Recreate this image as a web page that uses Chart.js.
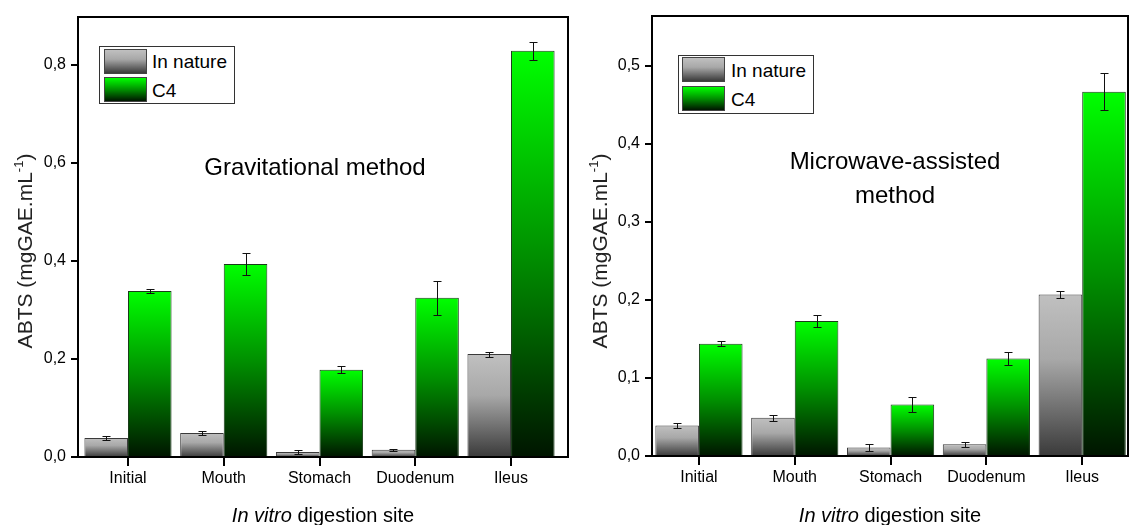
<!DOCTYPE html>
<html>
<head>
<meta charset="utf-8">
<script src="https://cdn.jsdelivr.net/npm/chart.js@4"></script>
<style>
  body { margin: 0; background: #fff; }
  #wrap { position: relative; width: 1131px; height: 525px; overflow: hidden; font-family: "Liberation Sans", Arial, sans-serif; color: #000; }
  .box { position: absolute; }
  .lg { position: absolute; border: 1px solid #333; background: #fff; }
  .sw { position: absolute; width: 43px; height: 25px; border: 1px solid #444; box-sizing: border-box; }
  .grey { background: linear-gradient(#c0c0c0, #a8a8a8 40%, #3a3a3a); }
  .green { background: linear-gradient(#00ff00, #009000 50%, #001500); }
  .lt { position: absolute; font-size: 19px; line-height: 19px; white-space: nowrap; }
  .note { position: absolute; width: 320px; text-align: center; font-size: 24px; line-height: 34px; }
</style>
</head>
<body>
<div id="wrap">
  <div class="box" style="left:0;top:0;width:575px;height:525px"><canvas id="grav"></canvas></div>
  <div class="box" style="left:575px;top:0;width:556px;height:525px"><canvas id="micro"></canvas></div>

  <div class="lg" style="left:99px;top:46px;width:134px;height:56px"></div>
  <div class="sw grey" style="left:104px;top:49px"></div>
  <div class="sw green" style="left:104px;top:77px"></div>
  <div class="lt" style="left:152px;top:52px">In nature</div>
  <div class="lt" style="left:152px;top:81px">C4</div>
  <div class="note" style="left:155px;top:150px">Gravitational method</div>

  <div class="lg" style="left:678px;top:55px;width:134px;height:57px"></div>
  <div class="sw grey" style="left:682px;top:57px"></div>
  <div class="sw green" style="left:682px;top:86px"></div>
  <div class="lt" style="left:731px;top:61px">In nature</div>
  <div class="lt" style="left:731px;top:90px">C4</div>
  <div class="note" style="left:735px;top:144px">Microwave-assisted<br>method</div>
</div>
<script>
// values
const categories = ["Initial", "Mouth", "Stomach", "Duodenum", "Ileus"];
const seriesNames = ["In nature", "C4"];

const gravNature = [0.039, 0.049, 0.010, 0.015, 0.210];
const gravNatureErr = [0.004, 0.005, 0.004, 0.002, 0.005];
const gravC4 = [0.339, 0.394, 0.178, 0.325, 0.829];
const gravC4Err = [0.004, 0.022, 0.007, 0.035, 0.018];

const microNature = [0.039, 0.049, 0.011, 0.015, 0.207];
const microNatureErr = [0.003, 0.004, 0.004, 0.003, 0.0045];
const microC4 = [0.144, 0.173, 0.066, 0.125, 0.467];
const microC4Err = [0.003, 0.008, 0.009, 0.008, 0.024];

const yTitle = "ABTS (mgGAE.mL";
const xTitleItalic = "In vitro";
const xTitleRest = " digestion site";

const FONT = "'Liberation Sans', Arial, sans-serif";

const greyStops = [[0, "#c0c0c0"], [0.4, "#a8a8a8"], [1, "#3a3a3a"]];
const greenStops = [[0, "#00ff00"], [0.5, "#009000"], [1, "#001500"]];

// vertical gradient per bar, from top of the bar down to zero
function barGradient(stops) {
    return (c) => {
        const chart = c.chart;
        const y = chart.scales.y;
        if (c.type !== "data" || !y || !c.raw) return stops[0][1];
        const top = y.getPixelForValue(c.raw.y);
        const base = y.getPixelForValue(0);
        if (!isFinite(top) || !isFinite(base) || top === base) return stops[0][1];
        const g = chart.ctx.createLinearGradient(0, top, 0, base);
        stops.forEach(s => g.addColorStop(s[0], s[1]));
        return g;
    };
}

const errorBars = {
    id: "errorBars",
    afterDatasetsDraw(chart) {
        const ctx = chart.ctx;
        const y = chart.scales.y;
        ctx.save();
        ctx.strokeStyle = "#111";
        ctx.lineWidth = 1;
        chart.data.datasets.forEach((ds, di) => {
            chart.getDatasetMeta(di).data.forEach((bar, i) => {
                const v = ds.data[i].y, e = ds.errors[i];
                const x = Math.round(bar.x) + 0.5;
                const y1 = Math.round(y.getPixelForValue(v + e)) + 0.5;
                const y2 = Math.round(y.getPixelForValue(v - e)) + 0.5;
                ctx.beginPath();
                ctx.moveTo(x, y1); ctx.lineTo(x, y2);
                ctx.moveTo(x - 4, y1); ctx.lineTo(x + 4, y1);
                ctx.moveTo(x - 4, y2); ctx.lineTo(x + 4, y2);
                ctx.stroke();
            });
        });
        ctx.restore();
    }
};

// frame, outward tick marks and the axis titles (mixed styles)
const frameAndTitles = {
    id: "frameAndTitles",
    afterDraw(chart) {
        const ctx = chart.ctx;
        const a = chart.chartArea;
        const sx = chart.scales.x, sy = chart.scales.y;
        ctx.save();
        ctx.strokeStyle = "#000";
        ctx.lineWidth = 2;
        ctx.strokeRect(a.left, a.top, a.right - a.left, a.bottom - a.top);

        ctx.fillStyle = "#000";
        sx.ticks.forEach(t => {
            const px = Math.round(sx.getPixelForValue(t.value));
            ctx.fillRect(px - 1, a.bottom, 2, 9);
        });
        sy.ticks.forEach(t => {
            const py = Math.round(sy.getPixelForValue(t.value));
            ctx.fillRect(a.left - 7, py - 1, 7, 2);
        });

        // y title with superscript
        ctx.fillStyle = "#222";
        const big = "21px " + FONT, small = "13px " + FONT;
        ctx.font = big;
        const w1 = ctx.measureText(yTitle).width;
        const w3 = ctx.measureText(")").width;
        ctx.font = small;
        const w2 = ctx.measureText("-1").width;
        const total = w1 + w2 + w3;
        ctx.translate(32, 251);
        ctx.rotate(-Math.PI / 2);
        ctx.textBaseline = "alphabetic";
        ctx.textAlign = "left";
        let x = -total / 2;
        ctx.font = big; ctx.fillText(yTitle, x, 0); x += w1;
        ctx.font = small; ctx.fillText("-1", x, -9); x += w2;
        ctx.font = big; ctx.fillText(")", x, 0);
        ctx.setTransform(1, 0, 0, 1, 0, 0);

        // x title, "In vitro" in italics
        const it = "italic 20px " + FONT, nm = "20px " + FONT;
        ctx.font = it;
        const wi = ctx.measureText(xTitleItalic).width;
        ctx.font = nm;
        const wr = ctx.measureText(xTitleRest).width;
        let xs = (a.left + a.right) / 2 - (wi + wr) / 2;
        ctx.fillStyle = "#000";
        ctx.font = it; ctx.fillText(xTitleItalic, xs, 522);
        ctx.font = nm; ctx.fillText(xTitleRest, xs + wi, 522);
        ctx.restore();
    }
};

function makeChart(id, nature, natureErr, c4, c4Err, cfg) {
    const toPts = arr => arr.map((v, i) => ({ x: i, y: v }));
    return new Chart(document.getElementById(id), {
        type: "bar",
        data: {
            datasets: [{
                label: seriesNames[0],
                data: toPts(nature),
                errors: natureErr,
                backgroundColor: barGradient(greyStops),
                borderColor: "#3a3a3a",
                borderWidth: 1,
                categoryPercentage: 0.91,
                barPercentage: 1
            }, {
                label: seriesNames[1],
                data: toPts(c4),
                errors: c4Err,
                backgroundColor: barGradient(greenStops),
                borderColor: "#1a3a1a",
                borderWidth: 1,
                categoryPercentage: 0.91,
                barPercentage: 1
            }]
        },
        options: {
            responsive: true,
            maintainAspectRatio: false,
            animation: false,
            layout: { padding: { left: 0, top: cfg.top, right: cfg.right, bottom: 0 } },
            plugins: { legend: { display: false }, tooltip: { enabled: false } },
            scales: {
                x: {
                    type: "linear",
                    min: cfg.xmin,
                    max: cfg.xmax,
                    offset: false,
                    afterBuildTicks: s => { s.ticks = categories.map((c, i) => ({ value: i })); },
                    afterFit: s => { s.height = cfg.xh; },
                    grid: { display: false },
                    border: { display: false },
                    ticks: {
                        color: "#000",
                        padding: 4,
                        font: { family: FONT, size: 16 },
                        callback: v => categories[v]
                    }
                },
                y: {
                    min: 0,
                    max: cfg.ymax,
                    afterFit: s => { s.width = cfg.yw; },
                    grid: { display: false },
                    border: { display: false },
                    ticks: {
                        stepSize: cfg.step,
                        includeBounds: false,
                        color: "#000",
                        padding: 4,
                        font: { family: FONT, size: 16 },
                        callback: v => v.toFixed(1).replace(".", ",")
                    }
                }
            }
        },
        plugins: [errorBars, frameAndTitles]
    });
}

makeChart("grav", gravNature, gravNatureErr, gravC4, gravC4Err,
    { top: 17, right: 7, xh: 68, yw: 78, xmin: -0.522, xmax: 4.595, ymax: 0.898, step: 0.2 });
makeChart("micro", microNature, microNatureErr, microC4, microC4Err,
    { top: 16, right: 3, xh: 69, yw: 77, xmin: -0.49, xmax: 4.478, ymax: 0.564, step: 0.1 });
</script>
</body>
</html>
